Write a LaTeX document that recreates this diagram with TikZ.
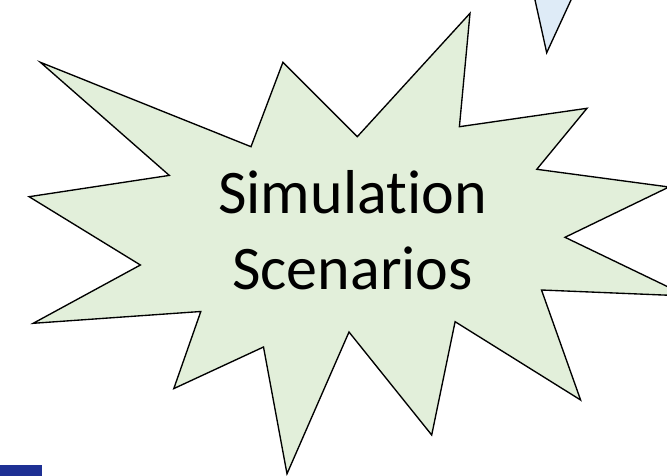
\documentclass[tikz,border=0pt]{standalone}
\usepackage{fontspec}
\setmainfont{Carlito}[Ligatures = NoCommon]
\definecolor{burstgreen}{RGB}{226,239,218}
\definecolor{calloutblue}{RGB}{222,235,247}
\definecolor{barblue}{RGB}{30,48,148}
\tikzset{
	burst/.style = {draw = black, line width = 1.35pt, fill = burstgreen, line join = miter},
	pointer/.style = {draw = black, line width = 1.35pt, fill = calloutblue},
	bigtext/.style = {align = center, font = \fontsize{62}{76}\selectfont},
}
\begin{document}
\begin{tikzpicture} [x = 1pt, y = -1pt]
	\useasboundingbox (0,0) rectangle (667,476);
	\clip (0,0) rectangle (667,476);
	\fill [white] (0,0) rectangle (667,476);
	% pointer coming in from above
	\draw [pointer] (532.8,-10) -- (546.7,52.7) -- (575.6,-10);
	% the star
	\draw [burst] (40.4,62.3) -- (251,146.7) -- (282.9,62.3) -- (357.3,136.7)
		-- (470,13.3) -- (459.4,126.7) -- (587,108.3) -- (536.8,169.3)
		-- (669,187) -- (565,237.3) -- (687,296) -- (541.5,290)
		-- (580.6,400) -- (455.1,321.7) -- (431.7,435) -- (349,332)
		-- (287,473.8) -- (263.5,347) -- (173.8,388.6) -- (200.8,311.5)
		-- (33.2,323.3) -- (140.4,265) -- (29.1,196.7) -- (169.3,175.4) -- cycle;
	\node [bigtext] (scen) at (352.5,230) {Simulation\\Scenarios};
	% corner of the blue bar
	\fill [barblue] (0,465) rectangle (41.7,480);
\end{tikzpicture}
\end{document}
